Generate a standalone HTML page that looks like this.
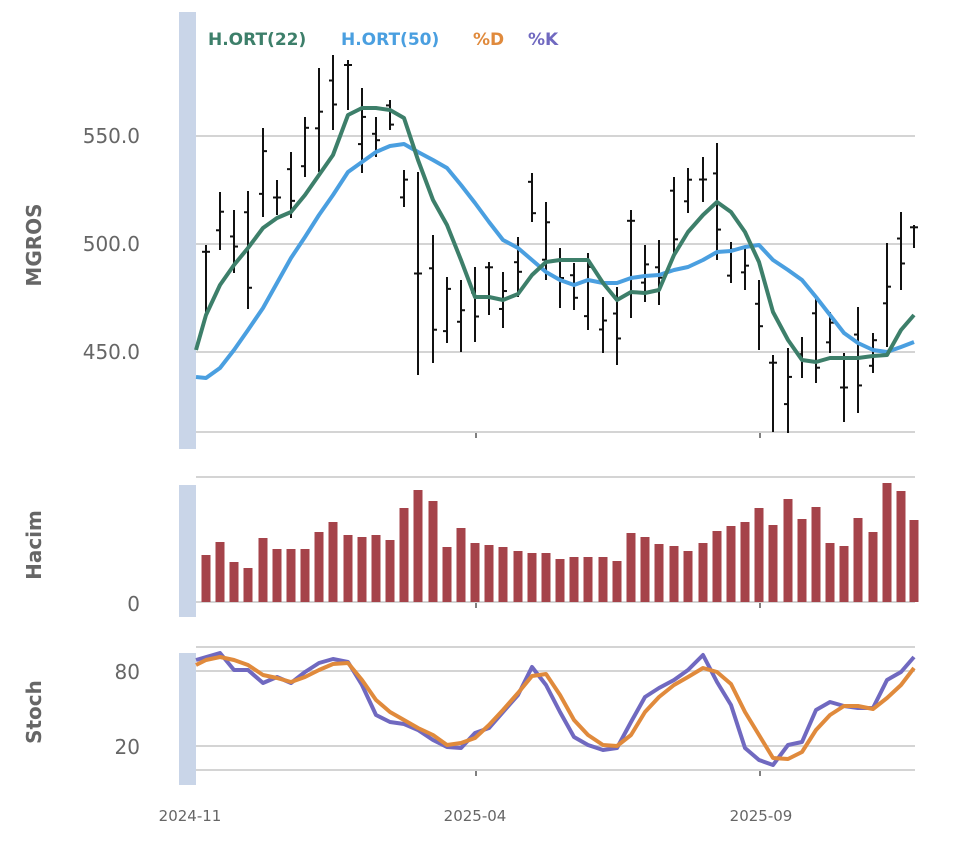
<!DOCTYPE html>
<html><head><meta charset="utf-8"><style>
html,body{margin:0;padding:0;background:#fff;}
svg{display:block;font-family:"DejaVu Sans","Liberation Sans",sans-serif;}
</style></head><body>
<svg id="s" width="960" height="857" viewBox="0 0 960 857" xmlns="http://www.w3.org/2000/svg">
<rect x="0" y="0" width="960" height="857" fill="#fff"/>
<!-- side bars -->
<rect x="179" y="12" width="17" height="437" fill="#c9d5e8"/>
<rect x="179" y="485" width="17" height="132" fill="#c9d5e8"/>
<rect x="179" y="653" width="17" height="132" fill="#c9d5e8"/>
<!-- main grid -->
<g stroke="#d4d4d4" stroke-width="2">
<line x1="196" y1="136" x2="915" y2="136"/>
<line x1="196" y1="244" x2="915" y2="244"/>
<line x1="196" y1="352" x2="915" y2="352"/>
<line x1="196" y1="432" x2="915" y2="432"/>
<line x1="196" y1="477" x2="915" y2="477"/>
<line x1="196" y1="602" x2="915" y2="602"/>
<line x1="196" y1="647" x2="915" y2="647"/>
<line x1="196" y1="671" x2="915" y2="671"/>
<line x1="196" y1="746" x2="915" y2="746"/>
<line x1="196" y1="770" x2="915" y2="770"/>
</g>
<g stroke="#555" stroke-width="1.5">
<line x1="476" y1="433" x2="476" y2="438"/><line x1="760" y1="433" x2="760" y2="438"/>
<line x1="476" y1="603" x2="476" y2="608"/><line x1="760" y1="603" x2="760" y2="608"/>
<line x1="476" y1="771" x2="476" y2="776"/><line x1="760" y1="771" x2="760" y2="776"/>
</g>
<g id="ohlc" stroke="#111" stroke-width="2"></g>
<g id="vol" fill="#a5434a"></g>
<polyline fill="none" stroke="#4a9fe0" stroke-width="4" stroke-linejoin="round" points="196,377 206,378 220,368 234,350 248,330 263,308 277,283 291,258 305,237 319,215 333,195 348,172 362,162 376,152 390,146 404,144 418,152 433,160 447,168 461,185 475,203 489,222 503,240 518,248 532,260 546,272 560,280 574,285 588,280 603,283 617,283 631,278 645,276 659,275 674,270 688,267 703,260 717,252 731,251 745,247 759,245 773,260 788,270 802,280 816,297 830,315 844,333 858,343 873,350 887,352 901,347 914,342"/>
<polyline fill="none" stroke="#3d7f6a" stroke-width="4" stroke-linejoin="round" points="196,350 206,315 220,285 234,265 248,248 263,228 277,218 291,212 305,195 319,175 333,155 348,115 362,108 376,108 390,110 404,118 418,160 433,200 447,225 461,260 475,297 489,297 503,300 518,294 532,275 546,262 560,260 574,260 588,260 603,283 617,300 631,292 645,293 659,290 674,255 688,232 703,215 717,202 731,212 745,232 759,262 773,312 788,340 802,360 816,362 830,358 844,358 858,358 873,356 887,355 901,330 914,315"/>
<polyline fill="none" stroke="#7069c0" stroke-width="4" stroke-linejoin="round" points="196,660 220,653 234,670 248,670 263,683 277,677 291,683 305,672 319,663 333,659 348,662 362,685 376,715 390,722 404,724 418,730 433,740 447,747 461,748 475,733 489,728 503,712 518,695 532,667 546,685 560,712 574,737 588,745 603,750 617,748 631,722 645,697 659,688 674,680 688,670 703,655 717,682 731,705 745,748 759,760 773,765 788,745 802,742 816,710 830,702 844,706 858,708 873,708 887,680 901,672 914,657"/>
<polyline fill="none" stroke="#e08a3c" stroke-width="4" stroke-linejoin="round" points="196,665 206,660 220,657 234,660 248,665 263,675 277,678 291,682 305,677 319,670 333,664 348,663 362,680 376,700 390,712 404,720 418,728 433,735 447,745 461,743 475,738 489,725 503,710 518,693 532,676 546,674 560,695 574,720 588,735 603,745 617,746 631,735 645,712 659,697 674,685 688,677 703,668 717,672 731,684 745,712 759,735 773,758 788,759 802,752 816,730 830,715 844,706 858,706 873,709 887,698 901,685 914,668"/>
<!-- legend -->
<g font-size="17" font-weight="bold">
<text x="208" y="45" fill="#3d7f6a">H.ORT(22)</text>
<text x="341" y="45" fill="#4a9fe0">H.ORT(50)</text>
<text x="473" y="45" fill="#e08a3c">%D</text>
<text x="528" y="45" fill="#7069c0">%K</text>
</g>
<!-- axis labels -->
<g font-size="20" fill="#666" text-anchor="end">
<text x="140" y="143">550.0</text>
<text x="140" y="251">500.0</text>
<text x="140" y="359">450.0</text>
<text x="140" y="611">0</text>
<text x="140" y="679">80</text>
<text x="140" y="754">20</text>
</g>
<g font-size="20" fill="#666" font-weight="bold" text-anchor="middle">
<text transform="translate(41,245) rotate(-90)">MGROS</text>
<text transform="translate(41,545) rotate(-90)">Hacim</text>
<text transform="translate(41,712) rotate(-90)">Stoch</text>
</g>
<g font-size="15" fill="#666" text-anchor="middle">
<text x="190" y="821">2024-11</text>
<text x="475" y="821">2025-04</text>
<text x="761" y="821">2025-09</text>
</g>
</svg>
<script>
var bars=[[206,245,313],[220,192,250],[234,210,273],[248,191,309],[263,128,217],[277,180,215],[291,152,218],[305,117,177],[319,68,172],[333,55,130],[348,60,110],[362,88,173],[376,117,157],[390,100,130],[404,170,207],[418,172,375],[433,235,363],[447,277,343],[461,280,352],[475,267,342],[489,262,315],[503,272,328],[518,237,297],[532,173,222],[546,202,280],[560,248,308],[574,263,310],[588,253,330],[603,297,353],[617,287,365],[631,210,318],[645,245,302],[659,240,305],[674,177,253],[688,168,213],[703,157,202],[717,143,260],[731,242,283],[745,248,290],[759,280,350],[773,355,432],[788,348,433],[802,337,378],[816,298,383],[830,312,353],[844,353,422],[858,307,413],[873,333,373],[887,243,347],[901,212,290],[914,225,248]];
var vol=[555,542,562,568,538,549,549,549,532,522,535,537,535,540,508,490,501,547,528,543,545,547,551,553,553,559,557,557,557,561,533,537,544,546,551,543,531,526,522,508,525,499,519,507,543,546,518,532,483,491,520];
var ns="http://www.w3.org/2000/svg",g=document.getElementById("ohlc"),v=document.getElementById("vol");
function el(p,t,a){var e=document.createElementNS(ns,t);for(var k in a)e.setAttribute(k,a[k]);p.appendChild(e);}
bars.forEach(function(b,i){var x=b[0],h=b[1],l=b[2];var r=l-h;
var o=h+r*((i*37%10)/10*0.8+0.1),c=h+r*((i*53%10)/10*0.8+0.1);
el(g,"line",{x1:x,y1:h,x2:x,y2:l});
el(g,"line",{x1:x-4,y1:o,x2:x,y2:o});
el(g,"line",{x1:x,y1:c,x2:x+4,y2:c});
var w=9;el(v,"rect",{x:x-w/2,y:vol[i],width:w,height:602-vol[i]});});
</script>
</body></html>
